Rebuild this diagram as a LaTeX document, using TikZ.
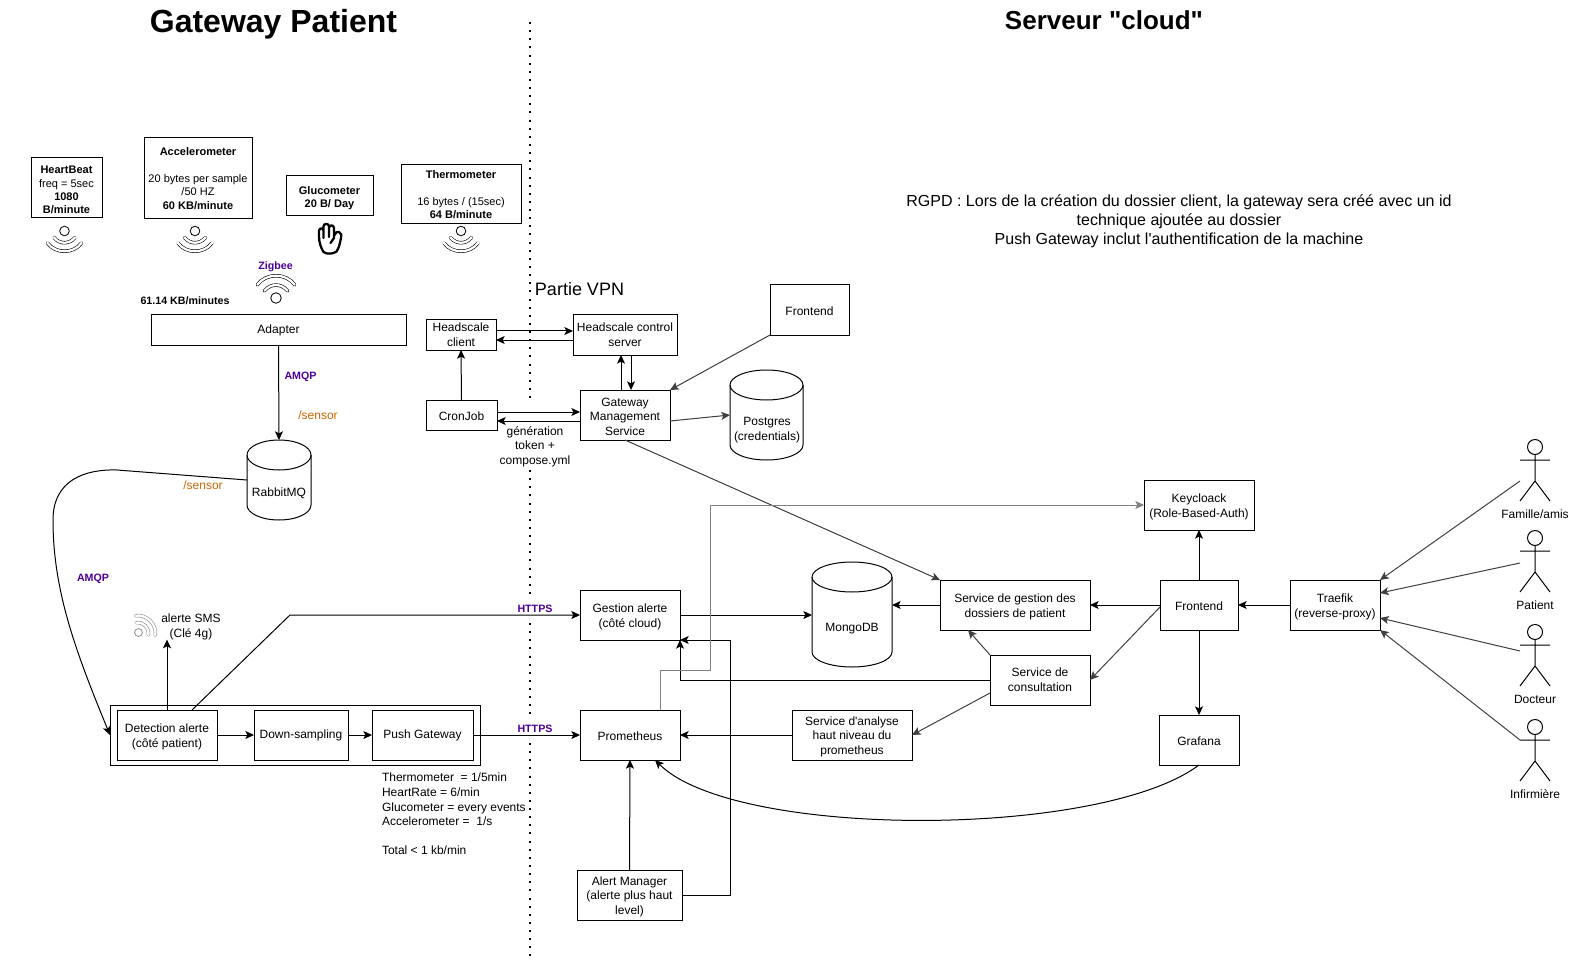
\documentclass[tikz,border=0pt]{standalone}
\usepackage{fontspec}
\setmainfont{Liberation Sans}[Ligatures=TeXOff]
\usetikzlibrary{arrows.meta,calc}
\definecolor{purp}{HTML}{4C0099}
\definecolor{oran}{HTML}{CC6600}
\newcommand\fs[2]{\fontsize{#1}{#2}\selectfont}
\newcommand\lowr{\rule{0pt}{9pt}}
\newcommand\lowq{\rule{0pt}{7.8pt}}
\tikzset{
  box/.style 2 args={draw=black,line width=.75pt,inner sep=0pt,outer sep=0pt,align=center,
    minimum width=(#1)*.75pt,minimum height=(#2)*.75pt,font=\fs{9}{11},execute at begin node=\lowq},
  sbox/.style 2 args={box={#1}{#2},font=\fs{8.25}{10}},
  ghost/.style 2 args={inner sep=0pt,outer sep=0pt,minimum width=(#1)*.75pt,minimum height=(#2)*.75pt},
  txt/.style={inner sep=0pt,outer sep=0pt,align=center,font=\fs{9}{11},execute at begin node=\lowq},
  link/.style={line width=.75pt,draw=black,-{Stealth[length=6.5pt,width=6pt,inset=1.5pt]}},
  slant/.style={link,draw=black!75},
  proto/.style={txt,font=\fs{8}{10}\bfseries,text=purp,execute at begin node=\lowr},
  sens/.style={txt,text=oran,execute at begin node=\lowr},
  wavepic/.pic={
    \tikzset{wv/.style={line width=.45pt,draw=#1,double=white,double distance=1.7pt,line cap=round}}
    \draw[line width=.6pt,draw=#1] (0,0) circle[radius=4.8];
    \draw[wv] (-10.5,6.5) .. controls (-5,13.5) and (5,13.5) .. (10.5,6.5);
    \draw[wv] (-17,12) .. controls (-9,23) and (9,23) .. (17,12);
  },
  wavepic/.default=black!65,
  actorpic/.pic={
    \draw[line width=.75pt] (0,0) circle[radius=7.5];
    \draw[line width=.75pt] (0,7.5) -- (0,34) (-15,13) -- (15,13) (-15,54) -- (0,34) -- (15,54);
    \coordinate (-hip) at (-15,34);
    \node[txt] (-label) at (0,66) {#1};
  }
}
\begin{document}
\begin{tikzpicture}[x=.75pt,y=-.75pt]
\useasboundingbox (0,0) rectangle (1569,962);
\fill[white] (0,0) rectangle (1569,962);

% titles
\node[txt,font=\fs{24}{28}\bfseries] (t1) at (273.5,24) {Gateway Patient};
\node[txt,font=\fs{19.5}{24}\bfseries] (t2) at (1104,20) {Serveur "cloud"};
\node[txt,font=\fs{13.5}{16}] (t3) at (579.5,289.5) {Partie VPN};
\node[txt,font=\fs{12}{14.3}] (rgpd) at (1179,221) {RGPD : Lors de la création du dossier client, la gateway sera créé avec un id\\technique ajoutée au dossier\\Push Gateway inclut l'authentification de la machine};

% separator
\coordinate (sepa) at (530,22);
\coordinate (sepb) at (530,399);
\coordinate (sepc) at (530,470);
\coordinate (sepd) at (530,600);
\coordinate (sepe) at (530,623);
\coordinate (sepf) at (530,719);
\coordinate (sepg) at (530,743);
\coordinate (seph) at (530,960);
\draw[line width=1.5pt,dash pattern=on 1.5pt off 4.6pt,line cap=butt]
  (sepa) -- (sepb) (sepc) -- (sepd) (sepe) -- (sepf) (sepg) -- (seph);

% sensors
\node[sbox={71}{60}] (hb) at (66.5,188) {\lowr\textbf{HeartBeat}\\freq = 5sec\\\textbf{1080}\\\textbf{B/minute}};
\node[sbox={108}{81},execute at begin node={}] (acc) at (198,178.5) {\textbf{Accelerometer}\\[10pt]20 bytes per sample\\/50 HZ\\\textbf{60 KB/minute}};
\node[sbox={87}{40}] (glu) at (329.5,196) {\lowr\textbf{Glucometer}\\\textbf{20 B/ Day}};
\node[sbox={120}{59},execute at begin node={}] (thm) at (461,194.5) {\textbf{Thermometer}\\[10pt]16 bytes / (15sec)\\\textbf{64 B/minute}};

\pic at (64.5,231) {wavepic};
\pic at (195,231) {wavepic};
\pic at (461,231) {wavepic};
\pic[yscale=-1.1,xscale=1.1] at (276,298) {wavepic};
\pic[rotate=135,scale=.82] at (138.5,632.5) {wavepic=black!45};

% hand
\draw[line width=1.7pt,line join=round,line cap=round]
  (323.5,252) .. controls (320.5,247) and (319,242) .. (319,236)
  -- (319,231) .. controls (319,227.5) and (323.5,227.5) .. (323.5,231) -- (323.5,238)
  (323.5,231) -- (323.5,226.5) .. controls (323.5,223) and (329,223) .. (329,226.5) -- (329,237)
  (329,228) .. controls (329,224.5) and (334,224.5) .. (334,228) -- (334,238) -- (330.5,243)
  (334,236) .. controls (336,232) and (337.5,231) .. (339,232)
  .. controls (342,233) and (341.5,236) .. (341,238)
  .. controls (340,243) and (339,248) .. (336.5,251.5)
  .. controls (334,254) and (326,254.5) .. (323.5,252);

% left side
\node[box={255}{30}] (adapter) at (278.5,330) {Adapter};
\node[txt,font=\fs{8}{10}\bfseries] (rate) at (185,299.5) {61.14 KB/minutes};
\node[proto] (zig) at (275.5,265) {Zigbee};
\node[proto] (amqp1) at (300.5,375) {AMQP};
\node[sens] (s1) at (318,414) {/sensor};
\node[sens] (s2) at (203,484) {/sensor};
\node[proto] (amqp2) at (93,577) {AMQP};

% cylinders
\newcommand\cyl[6]{% name, x1, x2, y1, y2, ry
  \node[ghost={#3-#2}{#5-#4}] (#1) at ({(#2+#3)/2},{(#4+#5)/2}) {};
  \draw[line width=.75pt,fill=white] (#2,#4+#6) arc[start angle=180,end angle=-180,x radius={(#3-#2)/2},y radius=#6];
  \draw[line width=.75pt] (#2,#4+#6) -- (#2,#5-#6) arc[start angle=180,end angle=0,x radius={(#3-#2)/2},y radius=#6] -- (#3,#4+#6);
}
\cyl{rabbit}{247}{311}{440}{520}{15}
\node[txt] (rabbitl) at (279,492) {RabbitMQ};
\cyl{pg}{730}{803}{370}{460}{15}
\node[txt] (pgl) at (767,428) {\lowr Postgres\\(credentials)};
\cyl{mongo}{812}{892}{562}{667}{15}
\node[txt] (mongol) at (852,628) {MongoDB};

% VPN part
\node[box={70}{30}] (hc) at (461,335) {Headscale\\client};
\node[box={104}{40}] (hs) at (625,335) {Headscale control\\server};
\node[box={71}{30}] (cron) at (461.5,415) {CronJob};
\node[box={90}{50}] (gms) at (625,415) {\lowr Gateway\\Management\\Service};
\node[box={79}{50},execute at begin node={}] (fe1) at (809.5,310) {Frontend};
\node[txt] (gen) at (535,445) {\lowr génération\\token +\\compose.yml};

% bottom-left
\node[box={370}{60}] (pbox) at (295,735) {};
\node[box={100}{50}] (det) at (167,735) {\lowr Detection alerte\\(côté patient)};
\node[box={94}{50}] (down) at (301,735) {Down-sampling};
\node[box={101}{50}] (push) at (422.5,735) {Push Gateway};
\node[txt] (sms) at (191,625) {\lowr alerte SMS\\(Clé 4g)};
\node[txt,align=left,anchor=north west] (rates) at (382,773) {Thermometer \ = 1/5min\\HeartRate = 6/min\\Glucometer = every events\\Accelerometer = \ 1/s\\[10.8pt]Total < 1 kb/min};
\node[proto] (h1) at (535,607) {HTTPS};
\node[proto] (h2) at (535,727) {HTTPS};

% cloud
\node[box={100}{50}] (ga) at (630,615) {\lowr Gestion alerte\\(côté cloud)};
\node[box={100}{50}] (prom) at (630,735) {Prometheus};
\node[box={105}{50}] (am) at (629.5,895) {\lowr Alert Manager\\(alerte plus haut\\level)};
\node[box={120}{50}] (ana) at (852,735) {\lowr Service d'analyse\\haut niveau du\\prometheus};
\node[box={150}{50}] (dos) at (1015,605) {\lowr Service de gestion des\\dossiers de patient};
\node[box={100}{50}] (cons) at (1040,680) {Service de\\consultation};
\node[box={110}{50}] (kc) at (1199,505) {\lowr Keycloack\\(Role-Based-Auth)};
\node[box={78}{50}] (fe2) at (1199,605) {Frontend};
\node[box={80}{50}] (gra) at (1199,740) {Grafana};
\node[box={90}{50}] (tr) at (1335,605) {\lowr Traefik\\(reverse-proxy)};

% actors
\pic (fam) at (1535,447) {actorpic=Famille/amis};
\pic (pat) at (1535,538) {actorpic=Patient};
\pic (doc) at (1535,632) {actorpic=Docteur};
\pic (inf) at (1535,727) {actorpic=Infirmière};

% connectors
\draw[link] (adapter.south) -- (rabbit.north);
\draw[link] (rabbit.west) -- (117,470) .. controls (85,469) and (53,480) .. (53,520)
  .. controls (53,590) and (75,650) .. (pbox.west);
\draw[link] (det.north) -- (det.north |- sms.south);
\draw[link] ($(det.north)+(25,0)$) -- (290,615) -- (ga.west);
\draw[link] (det.east) -- (down.west);
\draw[link] (down.east) -- (push.west);
\draw[link] (push.east) -- (prom.west);

\draw[link] ($(hc.east)+(0,-4)$) -- ($(hs.west)+(0,-4)$);
\draw[link] ($(hs.west)+(0,5)$) -- ($(hc.east)+(0,5)$);
\draw[link] (cron.north) -- (hc.south);
\draw[link] ($(cron.east)+(0,-3)$) -- ($(gms.west)+(0,-3)$);
\draw[link] ($(gms.west)+(0,6)$) -- ($(cron.east)+(0,6)$);
\draw[link] ($(gms.north)+(-4,0)$) -- ($(hs.south)+(-4,0)$);
\draw[link] ($(hs.south)+(6,0)$) -- ($(gms.north)+(6,0)$);
\draw[slant] (fe1.south west) -- (gms.north east);
\draw[slant] ($(gms.east)+(0,6)$) -- (pg.west);
\draw[slant] (gms.south) -- (dos.north west);

\draw[link] (ga.east) -- ($(mongo.west)+(0,0.5)$);
\draw[link] (dos.west) -- ($(mongo.east)+(0,-9.5)$);
\draw[link] (fe2.west) -- (dos.east);
\draw[slant] ($(fe2.west)+(0,2)$) -- (cons.east);
\draw[slant] (cons.north west) -- ($(dos.south west)+(28,0)$);
\draw[link] (cons.west) -- (ga.east |- cons.west) -- (ga.south east);
\draw[link] (am.east) -- (730,895) -- (730,640) -- (ga.south east);
\draw[slant] ($(cons.south west)+(0,-12)$) -- (ana.east);
\draw[link] (ana.west) -- (prom.east);
\draw[link] (am.north) -- (prom.south);
\draw[link] (gra.south) .. controls (1100,839) and (735,839) .. ($(prom.south east)+(-25,0)$);
\draw[link] (fe2.north) -- (kc.south);
\draw[link] (fe2.south) -- (gra.north);
\draw[link] (tr.west) -- (fe2.east);
\draw[link,draw=black!50,line width=.6pt] ($(prom.north)+(30,0)$) -- (660,670) -- (710,670) -- (710,505) -- (kc.west);

\draw[slant] (fam-hip) -- (tr.north east);
\draw[slant] ($(pat-hip)+(0,-9)$) -- ($(tr.north east)+(0,13)$);
\draw[slant] ($(doc-hip)+(0,-15)$) -- ($(tr.north east)+(0,38)$);
\draw[slant] ($(inf-hip)+(0,-21)$) -- (tr.south east);
\end{tikzpicture}
\end{document}
